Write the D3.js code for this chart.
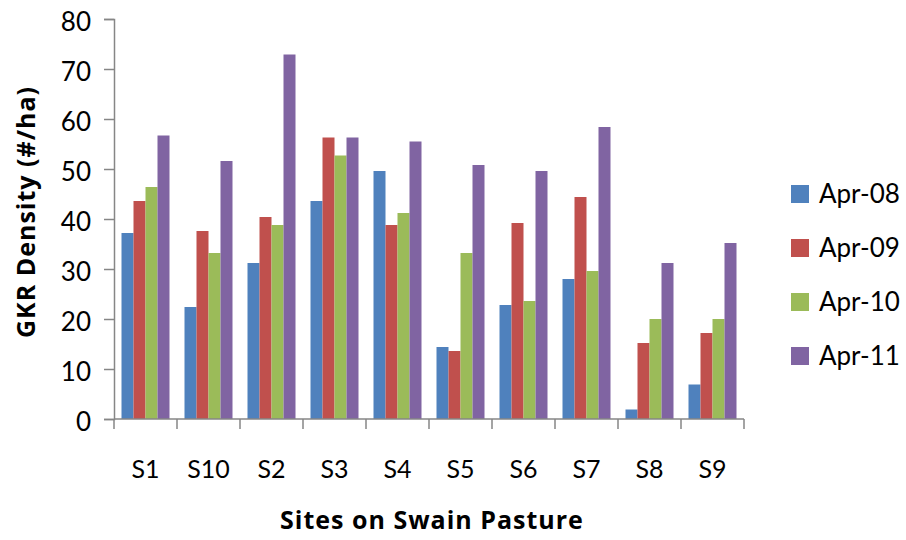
<!DOCTYPE html>
<html>
<head>
<meta charset="utf-8">
<script src="https://cdn.jsdelivr.net/npm/d3@7"></script>
<style>
  body { margin: 0; background: #fff; }
  text { font-family: Lato, "Open Sans", sans-serif; fill: #000; }
  .axis-title { font-family: "Open Sans", sans-serif; font-weight: bold; letter-spacing: 1px; }
</style>
</head>
<body>
<div id="chart"></div>
<script>
var svgWidth = 906;
var svgHeight = 540;

var margin = { top: 19, right: 162, bottom: 121, left: 114 };
var width = svgWidth - margin.left - margin.right;
var height = svgHeight - margin.top - margin.bottom;

// data
var sites = ["S1", "S10", "S2", "S3", "S4", "S5", "S6", "S7", "S8", "S9"];
var seriesNames = ["Apr-08", "Apr-09", "Apr-10", "Apr-11"];
var apr08 = [37.2, 22.4, 31.2, 43.6, 49.6, 14.4, 22.8, 28.0, 1.9, 6.9];
var apr09 = [43.6, 37.6, 40.4, 56.3, 38.8, 13.6, 39.2, 44.4, 15.2, 17.2];
var apr10 = [46.4, 33.2, 38.8, 52.7, 41.2, 33.2, 23.6, 29.6, 20.0, 20.0];
var apr11 = [56.7, 51.6, 72.9, 56.3, 55.5, 50.8, 49.6, 58.4, 31.2, 35.2];
var yTicks = [0, 10, 20, 30, 40, 50, 60, 70, 80];
var colors = ["#4F81BD", "#C0504D", "#9BBB59", "#8064A2"];

var seriesValues = [apr08, apr09, apr10, apr11];

var svg = d3.select("#chart")
  .append("svg")
  .attr("width", svgWidth)
  .attr("height", svgHeight);

var chartGroup = svg.append("g")
  .attr("transform", `translate(${margin.left}, ${margin.top})`);

var x0 = d3.scaleBand()
  .domain(sites)
  .range([0, width])
  .padding(0);

var x1 = d3.scaleBand()
  .domain(seriesNames)
  .range([0, x0.bandwidth()])
  .paddingInner(0)
  .paddingOuter(0.625);

var y = d3.scaleLinear()
  .domain([0, 80])
  .range([height, 0]);

// bars
var siteGroups = chartGroup.selectAll(".site")
  .data(sites)
  .enter()
  .append("g")
  .attr("class", "site")
  .attr("transform", d => `translate(${x0(d)}, 0)`);

siteGroups.selectAll("rect")
  .data((d, i) => seriesNames.map((s, j) => ({ key: s, value: seriesValues[j][i], idx: j })))
  .enter()
  .append("rect")
  .attr("x", d => x1(d.key))
  .attr("y", d => y(d.value))
  .attr("width", x1.bandwidth())
  .attr("height", d => height - y(d.value))
  .attr("fill", d => colors[d.idx]);

// y axis
var leftAxis = d3.axisLeft(y)
  .tickValues(yTicks)
  .tickSize(10)
  .tickPadding(13);

var yAxis = chartGroup.append("g").call(leftAxis);
yAxis.select(".domain").attr("stroke", "#868686").attr("stroke-width", 1.5);
yAxis.selectAll(".tick line").attr("stroke", "#868686").attr("stroke-width", 1.5);
yAxis.selectAll(".tick text")
  .attr("font-size", 26)
  .attr("dy", "0.45em");

// x axis: ticks at band boundaries
var xAxis = chartGroup.append("g")
  .attr("transform", `translate(0, ${height})`);

xAxis.append("line")
  .attr("x1", 0)
  .attr("x2", width)
  .attr("stroke", "#868686")
  .attr("stroke-width", 1.5);

xAxis.selectAll(".xtick")
  .data(sites.concat(["end"]))
  .enter()
  .append("line")
  .attr("class", "xtick")
  .attr("x1", (d, i) => i * x0.step())
  .attr("x2", (d, i) => i * x0.step())
  .attr("y1", 0)
  .attr("y2", 10)
  .attr("stroke", "#868686")
  .attr("stroke-width", 1.5);

xAxis.selectAll(".xlabel")
  .data(sites)
  .enter()
  .append("text")
  .attr("class", "xlabel")
  .attr("x", d => x0(d) + x0.bandwidth() / 2)
  .attr("y", 59)
  .attr("text-anchor", "middle")
  .attr("font-size", 25)
  .text(d => d);

// axis titles
svg.append("text")
  .attr("class", "axis-title")
  .attr("x", 432)
  .attr("y", 529)
  .attr("text-anchor", "middle")
  .attr("font-size", 25)
  .text("Sites on Swain Pasture");

svg.append("text")
  .attr("class", "axis-title")
  .attr("transform", "translate(35, 212) rotate(-90)")
  .attr("text-anchor", "middle")
  .attr("font-size", 25)
  .text("GKR Density (#/ha)");

// legend
var legend = svg.append("g")
  .attr("transform", "translate(791, 185)");

var legendItems = legend.selectAll(".legend-item")
  .data(seriesNames)
  .enter()
  .append("g")
  .attr("class", "legend-item")
  .attr("transform", (d, i) => `translate(0, ${i * 54})`);

legendItems.append("rect")
  .attr("width", 18)
  .attr("height", 18)
  .attr("fill", (d, i) => colors[i]);

legendItems.append("text")
  .attr("x", 28)
  .attr("y", 9)
  .attr("dy", "0.36em")
  .attr("font-size", 26)
  .text(d => d);
</script>
</body>
</html>
